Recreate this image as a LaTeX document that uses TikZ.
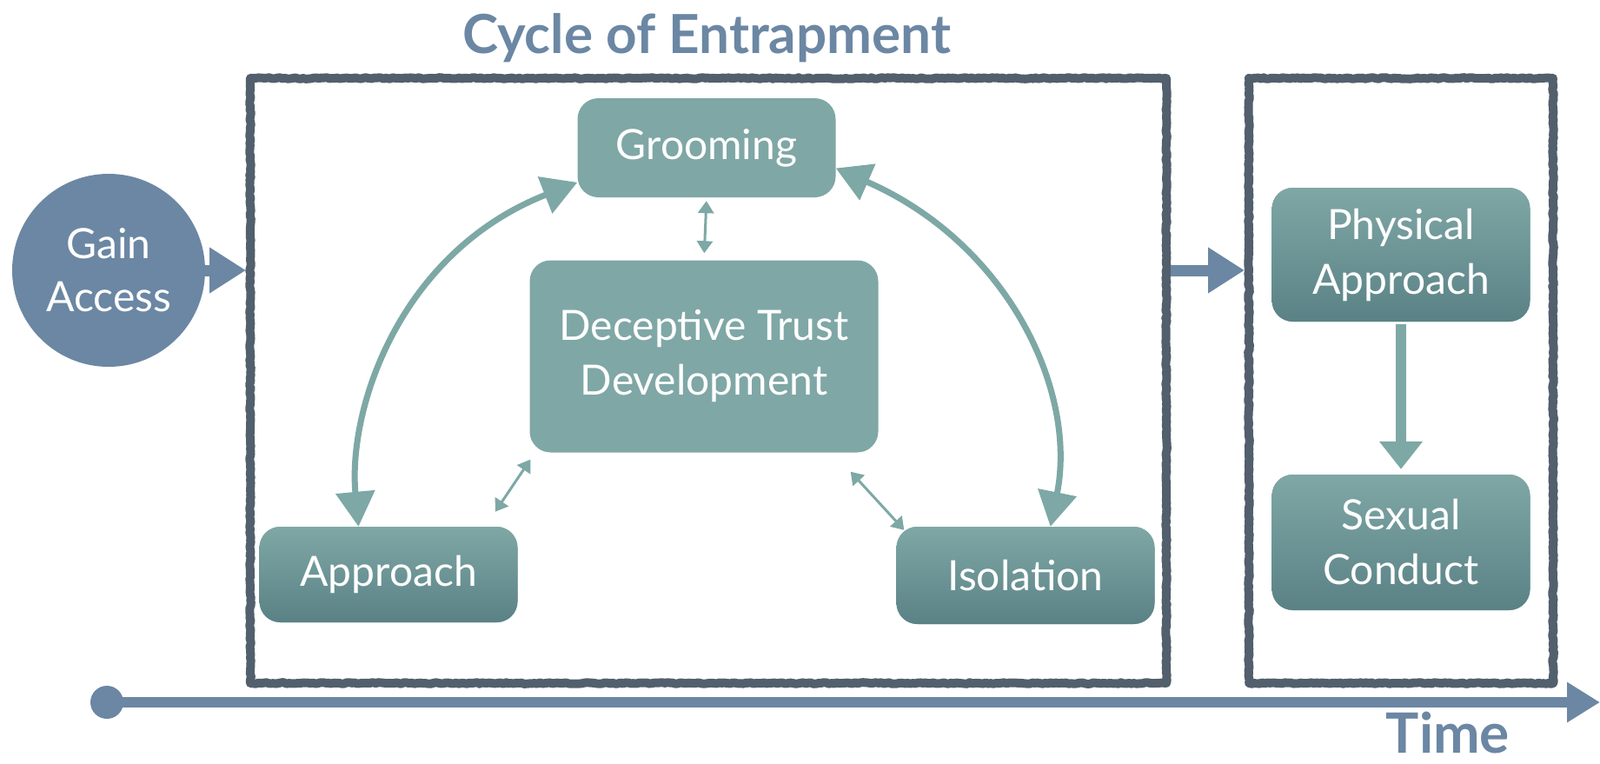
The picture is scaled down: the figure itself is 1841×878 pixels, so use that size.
\documentclass[tikz,border=0pt]{standalone}
\usepackage{fontspec}
\setmainfont{Lato}
\usepackage{tikz}
\usetikzlibrary{arrows.meta,decorations.pathmorphing}

\definecolor{slate}{HTML}{6B87A3}
\definecolor{framegray}{HTML}{525F6C}
\definecolor{tealtop}{HTML}{7FA7A5}
\definecolor{tealbot}{HTML}{5A8286}
\definecolor{tealarrow}{HTML}{7DA8A5}

\tikzset{
	stage/.style={rounded corners=24pt, fill=tealtop, text=white, align=center, inner sep=0pt,
		minimum width=297pt, font=\fontsize{48}{63}\selectfont},
	stagegrad/.style={stage, top color=tealtop, bottom color=tealbot},
	framebox/.style={draw=framegray, line width=10pt, line join=round, minimum height=696pt,
		decorate, decoration={random steps, segment length=3pt, amplitude=0.8pt}},
	bigloop/.style={draw=tealarrow, line width=7pt,
		{Triangle[length=40pt,width=44pt]}-{Triangle[length=40pt,width=44pt]}},
	smalllink/.style={draw=tealarrow, line width=3pt,
		{Triangle[length=14pt,width=18pt]}-{Triangle[length=14pt,width=18pt]}},
	push/.style={draw=slate, line width=13pt, -{Triangle[length=42pt,width=50pt]}}
}

\begin{document}
\begin{tikzpicture}[x=1pt, y=-1pt]
		\useasboundingbox (0,0) rectangle (1841,878);
		% frames and titles
		\node[framebox, minimum width=1054pt] (cyc) at (815,438) {};
		\node[framebox, minimum width=350pt] (act) at (1612,438) {};
		\node[anchor=base, text=slate, font=\fontsize{62}{70}\selectfont\bfseries] (title) at (813,61) {Cycle of Entrapment};
		\node[anchor=base, text=slate, font=\fontsize{64}{70}\selectfont\bfseries] (time) at (1666,866) {Time};
		% stages
		\node[circle, fill=slate, text=white, align=center, inner sep=0pt, minimum size=222pt,
			font=\fontsize{48}{61}\selectfont] (gain) at (125,311) {Gain\\Access};
		\node[stage, minimum height=114pt] (gro) at (813,170) {Grooming};
		\node[stage, minimum width=401pt, minimum height=221pt] (dtd) at (810,410) {Deceptive Trust\\Development};
		\node[stagegrad, minimum height=110pt] (app) at (447,661) {Approach};
		\node[stagegrad, minimum height=112pt] (iso) at (1180,662) {Isolation};
		\node[stagegrad, minimum height=154pt] (phy) at (1612,293) {Physical\\Approach};
		\node[stagegrad, minimum height=156pt] (sex) at (1612,624) {Sexual\\Conduct};
		% links
		\draw[bigloop] (gro.195) .. controls (460,290) and (400,470) .. (app.122);
		\draw[bigloop] (gro.-9) .. controls (1160,280) and (1240,450) .. (iso.63);
		\draw[smalllink, shorten <=4pt, shorten >=8pt] (gro.south) -- (dtd.north);
		\draw[smalllink] ([shift={(1,8)}]dtd.south west) -- ([shift={(-26,-17)}]app.north east);
		\draw[smalllink] ([shift={(-32,22)}]dtd.south east) -- ([shift={(9,4)}]iso.north west);
		\draw[push, draw=tealarrow, line width=12pt, -{Triangle[length=32pt,width=48pt]}, shorten <=3pt, shorten >=6pt] (phy.south) -- (sex.north);
		\draw[push] (gain.east) -- (gain -| cyc.west);
		\draw[push] (gain -| cyc.east) -- (gain -| act.west);
		% time axis
		\node[circle, fill=slate, minimum size=38pt, inner sep=0pt] (tdot) at (123,808) {};
		\coordinate (tend) at (1841,808);
		\draw[push, line width=12pt, -{Triangle[length=38pt,width=44pt]}] (tdot.center) -- (tend);
\end{tikzpicture}
\end{document}
